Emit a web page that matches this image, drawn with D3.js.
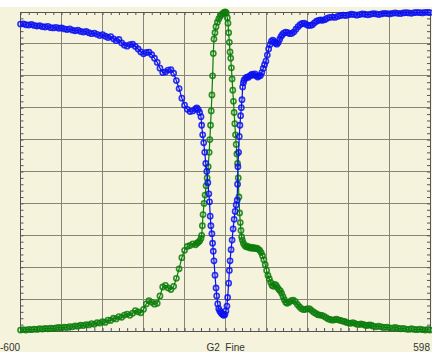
<!DOCTYPE html>
<html>
<head>
<meta charset="utf-8">
<script src="https://cdn.jsdelivr.net/npm/d3@7"></script>
<style>
  html, body { margin: 0; padding: 0; background: #fff; }
  svg { display: block; }
</style>
</head>
<body>
<div id="chart"></div>
<script>
// G2_Fine scan, two traces (x from -600 to 598, y in % of full scale)
const blueX = [-600,-592,-584,-576,-568,-560,-552,-544,-536,-528,-520,-512,-504,-496,-488,-480,-472,-464,-456,-448,-440,-432,-424,-416,-408,-400,-392,-384,-376,-368,-360,-352,-344,-336,-328,-320,-312,-304,-296,-288,-280,-272,-264,-256,-248,-240,-232,-224,-216,-208,-200,-192,-184,-176,-168,-160,-152,-144,-136,-128,-120,-112,-104,-96,-88,-84,-80,-76,-72,-70,-67,-64,-61,-58,-55,-52,-49,-47,-45,-43,-40,-38,-36,-34,-31,-28,-26,-23,-20,-17,-14,-11,-8,-5,-2,1,4,6,9,11,13,16,19,22,25,28,31,34,35,36,38,40,42,44,46,48,50,52,54,58,62,66,70,74,78,82,86,90,94,98,102,106,110,114,118,122,126,130,134,138,142,146,150,154,158,162,166,170,176,182,188,194,200,206,212,218,224,230,236,242,248,254,260,266,272,278,284,290,296,304,312,320,328,336,344,352,360,368,376,384,392,400,408,416,424,432,440,448,456,464,472,480,488,496,504,512,520,528,536,544,552,560,568,576,584,592,598];
const blueY = [96.2,96.3,96.0,95.9,96.1,95.8,95.6,95.7,95.4,95.3,95.5,95.1,95.0,95.2,94.9,95.0,94.7,94.5,94.7,94.3,94.1,94.3,93.9,93.7,93.9,93.5,93.2,93.4,93.0,92.6,92.9,92.4,92.0,92.3,91.6,91.0,91.4,90.3,89.6,89.3,89.8,89.9,89.2,88.4,87.5,86.9,87.3,87.4,86.6,85.5,84.2,82.4,81.0,81.2,81.8,81.9,80.8,78.5,76.0,73.0,70.8,69.5,68.8,69.0,69.6,69.9,69.4,68.5,67.2,64.5,61.5,59.0,56.0,52.5,50.0,46.5,43.0,40.5,36.0,33.0,30.5,27.5,25.0,22.0,17.5,13.5,11.0,8.5,7.0,6.3,5.8,5.4,5.1,4.9,5.2,6.3,7.8,10.5,15.0,19.0,22.0,25.5,28.5,32.0,35.0,37.5,39.5,41.0,46.0,51.5,56.0,61.0,64.5,67.5,70.0,72.5,76.5,77.8,78.6,79.2,79.6,79.5,79.9,80.2,80.5,80.2,80.6,80.0,79.6,79.9,80.1,81.0,82.3,83.5,84.6,86.5,88.4,89.8,90.8,91.2,90.7,90.2,89.9,90.4,91.4,92.3,92.9,93.4,93.7,93.5,93.2,93.3,93.8,94.6,95.4,96.0,96.4,96.5,96.1,95.8,95.8,96.0,96.6,97.1,97.4,97.5,97.4,97.6,98.0,98.3,98.4,98.3,98.6,98.9,99.0,98.9,99.1,99.3,99.2,99.0,99.2,99.4,99.3,99.1,99.3,99.5,99.4,99.2,99.4,99.6,99.5,99.4,99.6,99.7,99.6,99.5,99.7,99.8,99.7,99.6,99.8,99.9,99.8,99.7,99.9,99.9,99.8];

const greenX = [-600,-592,-584,-576,-568,-560,-552,-544,-536,-528,-520,-512,-504,-496,-488,-480,-472,-464,-456,-448,-440,-432,-424,-416,-408,-400,-392,-384,-376,-368,-360,-352,-344,-336,-328,-320,-312,-304,-296,-288,-280,-272,-264,-256,-248,-240,-232,-224,-216,-208,-200,-192,-184,-176,-168,-160,-152,-144,-136,-128,-120,-112,-104,-96,-88,-84,-80,-76,-72,-70,-68,-66,-63,-60,-57,-54,-51,-48,-46,-44,-42,-40,-38,-36,-34,-31,-28,-24,-20,-16,-12,-8,-4,-1,2,5,7,9,11,13,15,17,19,21,23,25,27,29,31,33,35,37,39,41,43,45,47,49,52,56,60,64,68,72,76,80,84,88,92,96,100,104,108,112,116,120,124,128,132,136,140,144,148,152,156,160,164,168,172,176,180,186,192,198,204,210,216,222,228,234,240,246,252,258,264,270,276,282,288,294,300,306,312,318,324,330,336,342,348,354,360,366,372,378,384,390,396,402,408,414,420,426,432,440,448,456,464,472,480,488,496,504,512,520,528,536,544,552,560,568,576,584,592,598];
const greenY = [0.3,0.4,0.3,0.5,0.4,0.6,0.5,0.7,0.6,0.8,0.7,0.9,0.8,1.0,1.1,1.0,1.2,1.1,1.4,1.3,1.6,1.5,1.8,1.7,2.0,1.9,2.3,2.1,2.6,2.5,2.9,2.7,3.4,3.3,4.0,3.8,4.5,4.3,5.0,5.3,4.9,5.6,6.4,6.0,5.7,6.8,8.5,9.5,9.0,8.4,8.7,11.0,13.8,14.3,13.5,13.0,14.0,16.5,19.5,23.0,25.3,26.5,26.8,27.3,27.0,27.5,27.8,28.2,29.0,30.0,33.0,36.5,40.0,42.6,45.5,48.0,51.5,56.0,60.0,64.5,69.0,74.0,80.0,87.0,91.5,93.5,95.4,96.8,97.8,98.6,99.2,99.6,99.9,100.0,99.7,98.2,96.5,93.5,90.5,87.5,85.5,82.5,79.0,75.5,72.0,68.5,65.0,61.5,58.5,55.5,52.5,48.0,42.0,37.0,34.0,31.5,29.5,28.5,27.5,26.8,26.4,26.6,26.2,26.0,26.3,25.9,26.1,25.8,26.0,25.6,25.3,24.6,23.6,22.3,20.8,19.0,17.4,16.3,15.2,14.3,14.0,14.6,14.3,13.6,13.0,12.6,11.8,10.8,9.8,9.0,8.7,9.0,9.5,9.7,9.2,8.3,7.6,7.0,6.7,6.8,7.0,6.9,6.4,5.9,5.5,5.1,5.0,4.9,4.6,4.2,3.8,3.6,3.4,3.5,3.7,3.5,3.3,3.1,3.0,2.7,2.5,2.4,2.6,2.4,2.1,2.0,2.2,2.1,1.8,1.7,1.9,1.8,1.5,1.3,1.5,1.3,1.1,1.2,1.0,0.9,1.1,0.9,0.7,0.8,0.6,0.5,0.7,0.5,0.4,0.6,0.4,0.3,0.5,0.3];

const xLabels = ['-600', 'G2_Fine', '598'];
const xMajor = [-480, -360, -240, -120, 0, 120, 240, 360, 480];
const yMajor = [10, 20, 30, 40, 50, 60, 70, 80, 90];

const W = 432, H = 352;
const plot = { left: 20.5, right: 430, top: 12, bottom: 331 };

const svg = d3.select('#chart').append('svg')
  .attr('width', W)
  .attr('height', H);

// cream panel, white strip on top
svg.append('rect').attr('x', 0).attr('y', 0).attr('width', W).attr('height', H).attr('fill', '#fff');
svg.append('rect').attr('x', 0).attr('y', 7).attr('width', W).attr('height', H - 7).attr('fill', '#f5f3dc');

const x = d3.scaleLinear().domain([-600, 598]).range([plot.left, plot.right]);
const y = d3.scaleLinear().domain([0, 100]).range([plot.bottom, plot.top]);

// grid
const grid = svg.append('g').attr('stroke', '#85837a').attr('stroke-width', 1).attr('shape-rendering', 'crispEdges');
grid.selectAll('.gx').data(xMajor).enter().append('line')
  .attr('x1', d => x(d)).attr('x2', d => x(d))
  .attr('y1', plot.top).attr('y2', plot.bottom);
grid.selectAll('.gy').data(yMajor).enter().append('line')
  .attr('y1', d => y(d)).attr('y2', d => y(d))
  .attr('x1', plot.left).attr('x2', plot.right);

// minor ticks, pointing inward on all four sides
const xMinor = d3.range(-600, 599, 24);
const yMinor = d3.range(0, 101, 2);
const tickStyle = g => {
  g.select('.domain').remove();
  g.selectAll('line').attr('stroke', '#555');
  g.selectAll('text').remove();
};
svg.append('g').attr('transform', `translate(0,${plot.bottom})`)
  .call(d3.axisTop(x).tickValues(xMinor).tickSize(3).tickFormat('')).call(tickStyle);
svg.append('g').attr('transform', `translate(0,${plot.top})`)
  .call(d3.axisBottom(x).tickValues(xMinor).tickSize(3).tickFormat('')).call(tickStyle);
svg.append('g').attr('transform', `translate(${plot.left},0)`)
  .call(d3.axisRight(y).tickValues(yMinor).tickSize(3).tickFormat('')).call(tickStyle);
svg.append('g').attr('transform', `translate(${plot.right},0)`)
  .call(d3.axisLeft(y).tickValues(yMinor).tickSize(3).tickFormat('')).call(tickStyle);

// frame
svg.append('rect')
  .attr('x', plot.left).attr('y', plot.top)
  .attr('width', plot.right - plot.left).attr('height', plot.bottom - plot.top)
  .attr('fill', 'none').attr('stroke', '#555').attr('stroke-width', 1)
  .attr('shape-rendering', 'crispEdges');

function drawSeries(xs, ys, color) {
  const pts = xs.map((d, i) => [d, ys[i]]);
  const line = d3.line().x(d => x(d[0])).y(d => y(d[1]));
  const g = svg.append('g');
  g.append('path').datum(pts)
    .attr('d', line)
    .attr('fill', 'none')
    .attr('stroke', color)
    .attr('stroke-width', 1.2);
  g.selectAll('circle').data(pts).enter().append('circle')
    .attr('cx', d => x(d[0]))
    .attr('cy', d => y(d[1]))
    .attr('r', 2.6)
    .attr('fill', 'none')
    .attr('stroke', color)
    .attr('stroke-width', 1.6)
    .attr('stroke-opacity', 0.85);
}

drawSeries(greenX, greenY, '#0a7d0a');
drawSeries(blueX, blueY, '#0a10f0');

// axis labels
const lab = svg.append('g')
  .attr('font-family', 'Arial, "Liberation Sans", sans-serif')
  .attr('font-size', 10)
  .attr('fill', '#333');
lab.append('text').attr('x', 0).attr('y', 351).text(xLabels[0]);
lab.append('text').attr('x', x(0)).attr('y', 351).attr('text-anchor', 'middle').text(xLabels[1]);
lab.append('text').attr('x', plot.right).attr('y', 351).attr('text-anchor', 'end').text(xLabels[2]);
</script>
</body>
</html>
